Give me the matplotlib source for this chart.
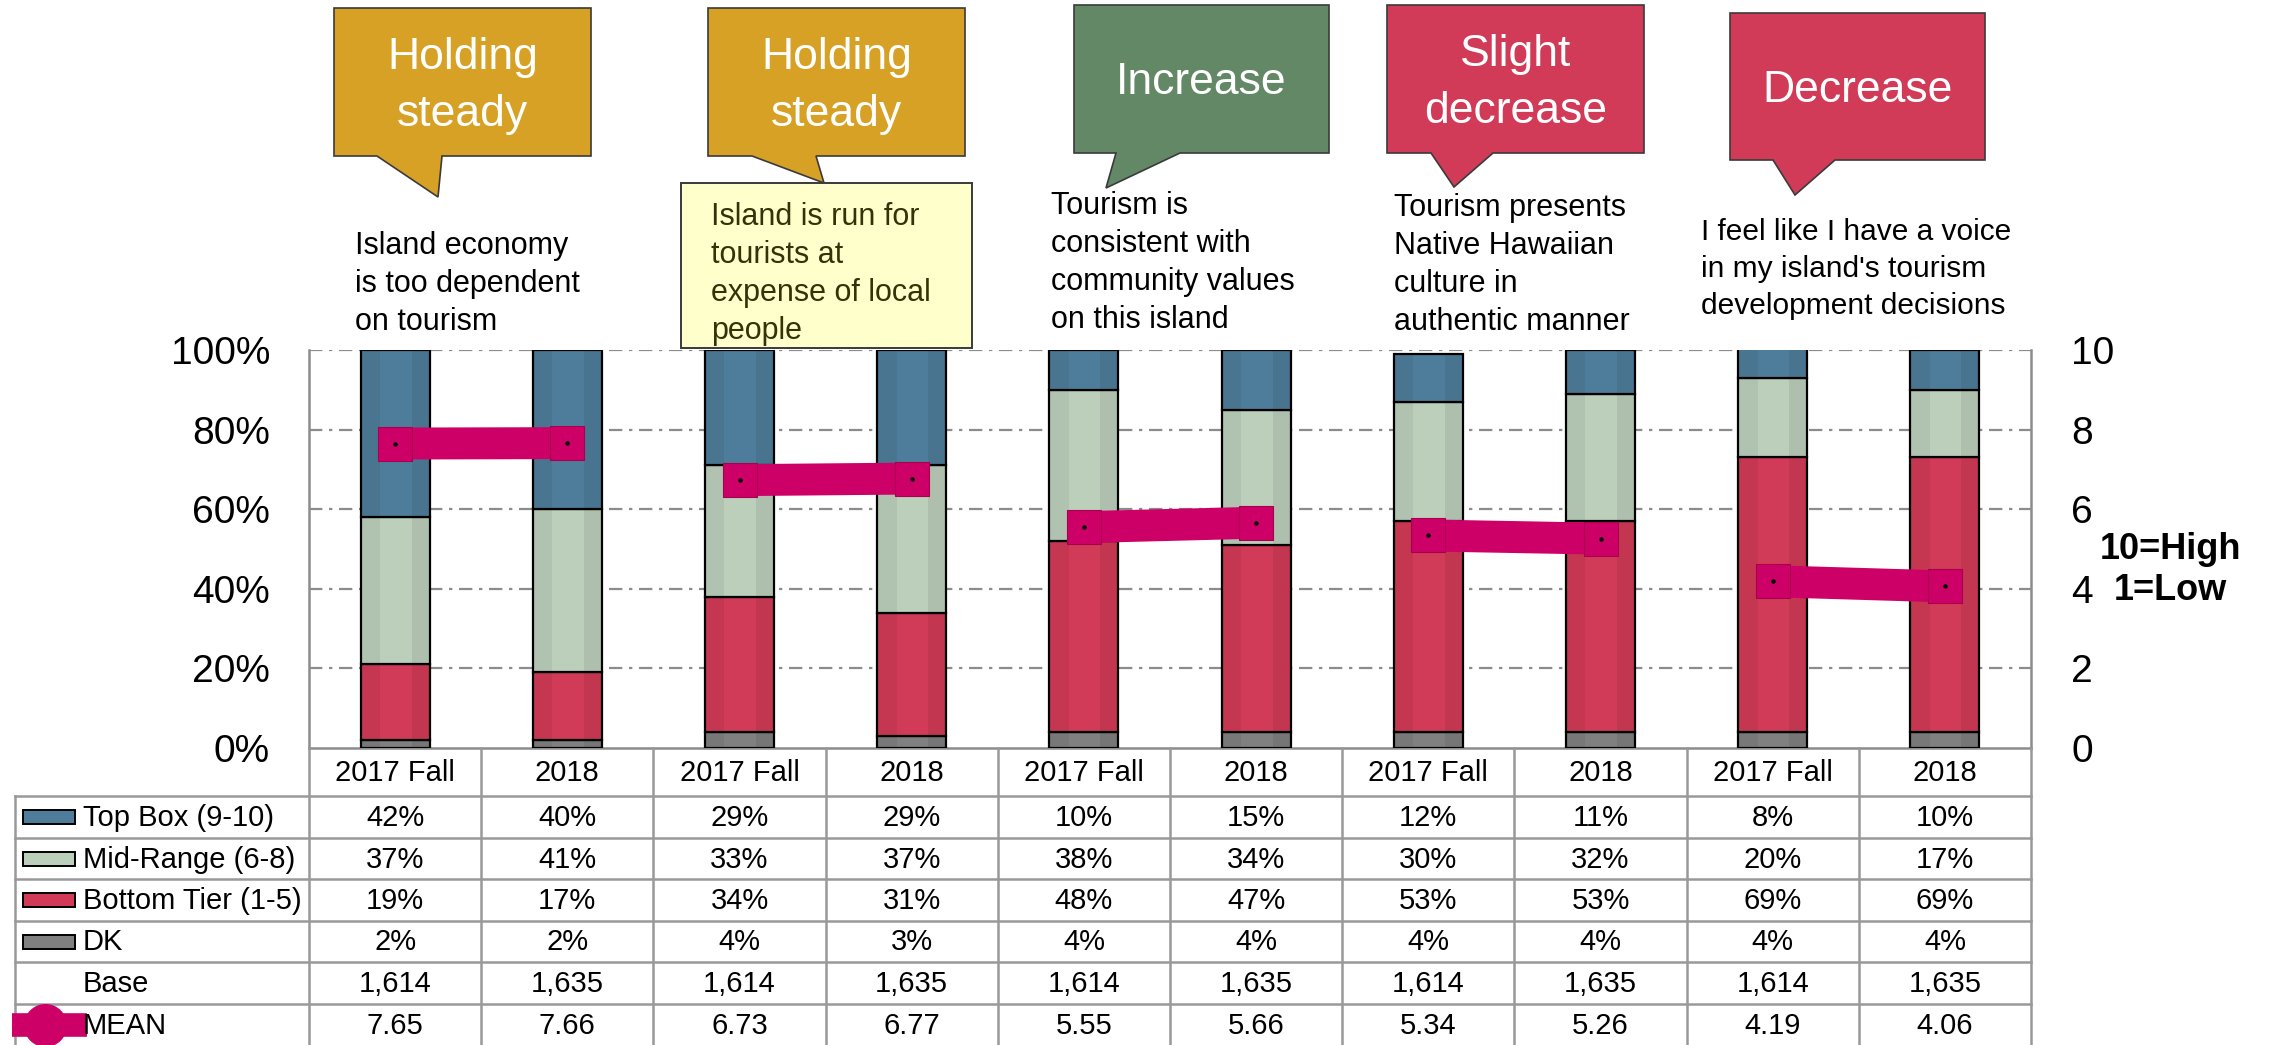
import matplotlib
matplotlib.use("Agg")
import matplotlib.pyplot as plt
from matplotlib.patches import Polygon, Rectangle
from matplotlib.lines import Line2D
import numpy as np

plt.rcParams["font.family"] = ["Liberation Sans", "DejaVu Sans"]

# ---- data ----
categories = ["2017 Fall", "2018"] * 5
top_box = [42, 40, 29, 29, 10, 15, 12, 11, 8, 10]
mid_range = [37, 41, 33, 37, 38, 34, 30, 32, 20, 17]
bottom_tier = [19, 17, 34, 31, 48, 47, 53, 53, 69, 69]
dk = [2, 2, 4, 3, 4, 4, 4, 4, 4, 4]
base = [1614, 1635, 1614, 1635, 1614, 1635, 1614, 1635, 1614, 1635]
mean = [7.65, 7.66, 6.73, 6.77, 5.55, 5.66, 5.34, 5.26, 4.19, 4.06]

verdicts = ["Holding\nsteady", "Holding\nsteady", "Increase", "Slight\ndecrease", "Decrease"]
statements = [
    "Island economy\nis too dependent\non tourism",
    "Island is run for\ntourists at\nexpense of local\npeople",
    "Tourism is\nconsistent with\ncommunity values\non this island",
    "Tourism presents\nNative Hawaiian\nculture in\nauthentic manner",
    "I feel like I have a voice\nin my island's tourism\ndevelopment decisions",
]

C_TOP = "#4E7D9B"
C_MID = "#BCCFBB"
C_BOT = "#D23B57"
C_DK = "#808080"
C_MEAN = "#CC0066"
C_GOLD = "#D6A125"
C_GREEN = "#638865"
C_RED = "#D23B57"
GRID = "#8C8C8C"

W, H = 2269, 1045
fig = plt.figure(figsize=(W / 100, H / 100), dpi=100)

# plot area in pixels
L, R, T, B = 309, 2031, 350, 748
ax = fig.add_axes([L / W, 1 - B / H, (R - L) / W, (B - T) / H])

x = np.arange(len(categories))
bw = 0.4
series = [(dk, C_DK), (bottom_tier, C_BOT), (mid_range, C_MID), (top_box, C_TOP)]
bottom = np.zeros(len(x))
for vals, col in series:
    ax.bar(x, vals, bw, bottom=bottom, color=col, edgecolor="black", linewidth=1.6, zorder=3)
    bottom += np.array(vals)
# subtle vertical shading on bars
for xi, tot in zip(x, bottom):
    ax.bar(xi - bw * 0.36, tot, bw * 0.28, color="black", alpha=0.06, zorder=4, linewidth=0)
    ax.bar(xi + bw * 0.37, tot, bw * 0.26, color="black", alpha=0.07, zorder=4, linewidth=0)

ax.set_xlim(-0.5, len(x) - 0.5)
ax.set_ylim(0, 100)
ax.set_yticks([0, 20, 40, 60, 80, 100])
ax.set_yticklabels([f"{v}%" for v in [0, 20, 40, 60, 80, 100]])
ax.tick_params(axis="y", length=0, pad=28, labelsize=28)
ax.set_xticks([])
for yv in [20, 40, 60, 80, 100]:
    ax.axhline(yv, color=GRID, lw=1.6, ls=(0, (6, 3, 1.5, 3)), zorder=1)
for s in ["left", "right", "bottom"]:
    ax.spines[s].set_color(GRID)
    ax.spines[s].set_linewidth(1.8)
ax.spines["top"].set_visible(False)

ax2 = ax.twinx()
ax2.set_ylim(0, 10)
ax2.set_yticks([0, 2, 4, 6, 8, 10])
ax2.tick_params(axis="y", length=0, pad=29, labelsize=28)
for s in ax2.spines.values():
    s.set_visible(False)
for i in range(0, len(x), 2):
    ax2.plot(x[i:i + 2], mean[i:i + 2], color=C_MEAN, lw=23, solid_capstyle="butt",
             marker="s", ms=25, mec="#A8004F", mew=0.8, zorder=5)
ax2.plot(x, mean, "o", color="black", ms=2.2, zorder=6)

# overlay in pixel coordinates for callouts and table
ov = fig.add_axes([0, 0, 1, 1])
ov.set_xlim(0, W)
ov.set_ylim(H, 0)
ov.axis("off")
ov.patch.set_visible(False)

# callouts: box (l, r, t, b), tail (base left, base right, tip x, tip y)
boxes = [
    ((334, 591, 8, 156), (377, 442, 438, 197), C_GOLD),
    ((708, 965, 8, 156), (752, 816, 824, 183), C_GOLD),
    ((1074, 1329, 5, 153), (1116, 1180, 1106, 188), C_GREEN),
    ((1387, 1644, 5, 153), (1431, 1493, 1454, 187), C_RED),
    ((1730, 1985, 13, 160), (1773, 1835, 1795, 195), C_RED),
]
for (l, r, t, b), (bl, br, tx, ty), col in boxes:
    pts = [(l, t), (r, t), (r, b), (br, b), (tx, ty), (bl, b), (l, b)]
    ov.add_patch(Polygon(pts, closed=True, fc=col, ec="#3A3A3A", lw=1.2, zorder=2))
for ((l, r, t, b), _, _), txt in zip(boxes, verdicts):
    ov.text((l + r) / 2, (t + b) / 2 + 4, txt, color="white", fontsize=32,
            ha="center", va="center", linespacing=1.47, zorder=3)

# yellow note box behind statement 2
ov.add_patch(Rectangle((681, 183), 291, 165, fc="#FFFFCC", ec="#3A3A3A", lw=1.4, zorder=2))

stmt_pos = [(355, 284, 22, "black", 1.35), (711, 274, 22, "#33330A", 1.35),
            (1051, 263, 22, "black", 1.35), (1394, 265, 22, "black", 1.35),
            (1701, 269, 21.5, "black", 1.42)]
for (sx, sy, fs, col, lsp), txt in zip(stmt_pos, statements):
    ov.text(sx, sy, txt, fontsize=fs, color=col, ha="left", va="center",
            linespacing=lsp, zorder=3)

# right-side note
ov.text(2170, 570, "10=High\n1=Low", fontsize=26, fontweight="bold",
        ha="center", va="center", linespacing=1.25)

# ---- data table ----
col_w = (R - L) / len(x)
row_edges = [796, 838, 879, 921, 962, 1004, 1046]
tcol = "#999999"
for yv in row_edges:
    ov.plot([15, R], [yv, yv], color=tcol, lw=1.8, zorder=1)
ov.plot([15, 15], [row_edges[0], H], color=tcol, lw=1.8)
for k in range(len(x) + 1):
    ov.plot([L + k * col_w] * 2, [B, H], color=tcol, lw=1.8)

for k, cat in enumerate(categories):
    ov.text(L + (k + 0.5) * col_w, (B + row_edges[0]) / 2 + 1, cat, fontsize=21,
            ha="center", va="center")

row_labels = ["Top Box (9-10)", "Mid-Range (6-8)", "Bottom Tier (1-5)", "DK", "Base", "MEAN"]
row_keys = [C_TOP, C_MID, C_BOT, C_DK, None, None]
row_vals = [
    [f"{v}%" for v in top_box],
    [f"{v}%" for v in mid_range],
    [f"{v}%" for v in bottom_tier],
    [f"{v}%" for v in dk],
    [f"{v:,}" for v in base],
    [f"{v:.2f}" for v in mean],
]
for r_i, (lab, key, vals) in enumerate(zip(row_labels, row_keys, row_vals)):
    yc = (row_edges[r_i] + row_edges[r_i + 1]) / 2
    if key is not None:
        ov.add_patch(Rectangle((23, yc - 7), 52, 14, fc=key, ec="black", lw=1.4, zorder=3))
    ov.text(83, yc + 1, lab, fontsize=21, ha="left", va="center", zorder=4)
    for k, v in enumerate(vals):
        ov.text(L + (k + 0.5) * col_w, yc + 1, v, fontsize=21, ha="center", va="center")

# MEAN legend key
mean_y = (row_edges[5] + row_edges[6]) / 2
ov.add_line(Line2D([12, 87], [mean_y, mean_y], color=C_MEAN, lw=17, solid_capstyle="butt", zorder=2))
ov.plot([45], [mean_y], "o", color=C_MEAN, ms=30, zorder=2)

fig.savefig("out.png", dpi=100)
